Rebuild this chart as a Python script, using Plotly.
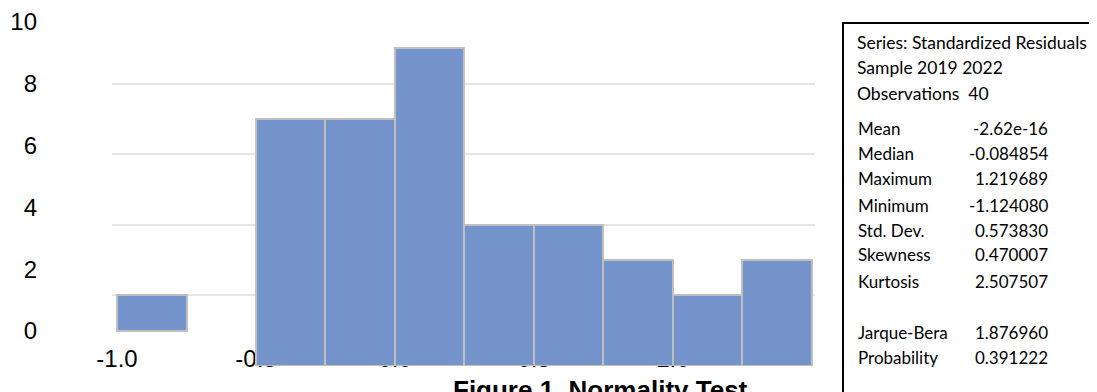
import plotly.graph_objects as go

W, H = 1097, 392
OFF = 8  # page body margin in the browser

# ---- data ----
bin_centers = [-0.375, -0.125, 0.125, 0.375, 0.625, 0.875, 1.125, 1.375]
counts = [7, 7, 9, 4, 4, 3, 2, 3]
first_bin_center = [-0.875]
first_count = [1]
x_tick_vals = [-1.0, -0.5, 0.0, 0.5, 1.0]
x_tick_text = ["-1.0", "-0.5", "0.0", "0.5", "1.0"]
y_tick_vals = [0, 2, 4, 6, 8, 10]
y_tick_text = ["0", "2", "4", "6", "8", "10"]
grid_vals = [2, 4, 6, 8]

header_lines = ["Series: Standardized Residuals", "Sample 2019 2022", "Observations  40"]
stat_labels = ["Mean", "Median", "Maximum", "Minimum", "Std. Dev.", "Skewness", "Kurtosis",
               "Jarque-Bera", "Probability"]
stat_values = ["-2.62e-16", "-0.084854", "1.219689", "-1.124080", "0.573830", "0.470007",
               "2.507507", "1.876960", "0.391222"]
title_text = "Figure 1. Normality Test"

# ---- helpers (window pixel -> paper fraction) ----
def fx(px):
    return (px - OFF) / W

def fy(py):
    return (H - (py - OFF)) / H

BAR_COLOR = "#7494CB"
BAR_LINE = "#BFBFBF"
FONT = "Arial, Liberation Sans, sans-serif"
BOX_FONT = "Lato, Open Sans, sans-serif"

x_dom = [fx(112), fx(815)]
x_rng = [-1.018, 1.511]

fig = go.Figure()

fig.add_trace(go.Bar(x=bin_centers, y=counts, width=0.25, xaxis="x", yaxis="y",
                     marker=dict(color=BAR_COLOR, line=dict(color=BAR_LINE, width=2)),
                     showlegend=False))
fig.add_trace(go.Bar(x=first_bin_center, y=first_count, width=0.25, xaxis="x", yaxis="y3",
                     marker=dict(color=BAR_COLOR, line=dict(color=BAR_LINE, width=2)),
                     showlegend=False))
# empty trace carrying the left-hand value labels
fig.add_trace(go.Scatter(x=[None], y=[None], xaxis="x", yaxis="y2", showlegend=False,
                         hoverinfo="skip"))

fig.update_layout(
    width=W, height=H,
    margin=dict(l=0, r=0, t=0, b=0),
    paper_bgcolor="white",
    plot_bgcolor="rgba(0,0,0,0)",
    showlegend=False,
    bargap=0,
    xaxis=dict(domain=x_dom, range=x_rng, anchor="free", position=fy(341.5),
               tickvals=x_tick_vals, ticktext=x_tick_text, showgrid=False, zeroline=False,
               showline=False, ticks="", layer="below traces",
               tickfont=dict(family=FONT, size=24, color="black"), automargin=False),
    yaxis=dict(domain=[fy(366), fy(13)], range=[0, 10], anchor="x", tickvals=grid_vals,
               showticklabels=False, showgrid=True, gridcolor="#E5E5E5", gridwidth=2,
               zeroline=False, showline=False, ticks="", automargin=False),
    yaxis3=dict(range=[-1, 9], anchor="x", overlaying="y",
                showticklabels=False, showgrid=False, zeroline=False, showline=False,
                ticks="", automargin=False),
    yaxis2=dict(domain=[fy(331), fy(22)], range=[0, 10], anchor="free", position=fx(37),
                tickvals=y_tick_vals, ticktext=y_tick_text, showgrid=False, zeroline=False,
                showline=False, ticks="", tickfont=dict(family=FONT, size=24, color="black"),
                automargin=False),
)

# stats box
fig.add_shape(type="rect", xref="paper", yref="paper", x0=fx(843), x1=fx(1120),
              y0=fy(420), y1=fy(23), line=dict(color="black", width=2),
              fillcolor="rgba(0,0,0,0)")

header_y = [42, 68, 94]
for txt, py in zip(header_lines, header_y):
    fig.add_annotation(x=fx(855), y=fy(py), xref="paper", yref="paper", text=txt,
                       showarrow=False, xanchor="left", yanchor="middle",
                       font=dict(family=BOX_FONT, size=17.5, color="black"))

stat_y = [128, 153, 179, 205, 230, 255, 281, 332, 357]
for lab, val, py in zip(stat_labels, stat_values, stat_y):
    fig.add_annotation(x=fx(856), y=fy(py), xref="paper", yref="paper", text=lab,
                       showarrow=False, xanchor="left", yanchor="middle",
                       font=dict(family=BOX_FONT, size=17, color="black"))
    fig.add_annotation(x=fx(1050), y=fy(py), xref="paper", yref="paper", text=val,
                       showarrow=False, xanchor="right", yanchor="middle",
                       font=dict(family=BOX_FONT, size=17, color="black"))

fig.add_annotation(x=fx(600), y=fy(390), xref="paper", yref="paper",
                   text="<b>" + title_text + "</b>", showarrow=False,
                   xanchor="center", yanchor="middle",
                   font=dict(family=FONT, size=26, color="black"))

fig.write_html("out.html")
